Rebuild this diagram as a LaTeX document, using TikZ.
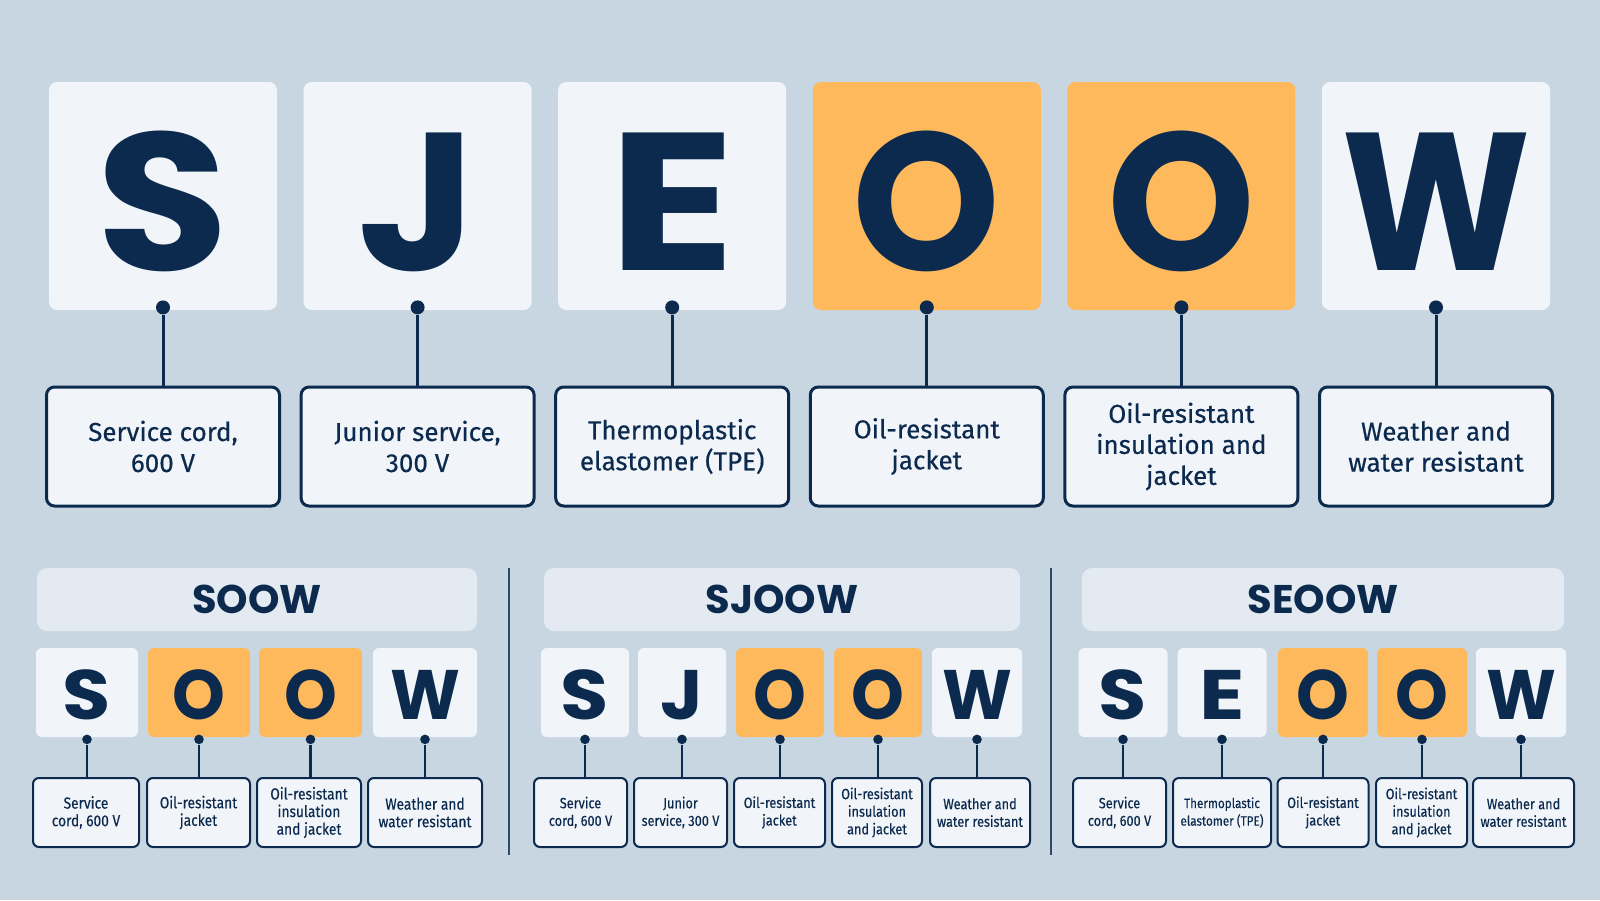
\documentclass[tikz,border=0pt]{standalone}
\usepackage{fontspec}
\setmainfont{Fira Sans}[FakeBold=0.4]
\newfontfamily\letterfont{Poppins}
\newfontfamily\narrowfont{Fira Sans}[FakeStretch=0.86, FakeBold=0.3]
\usetikzlibrary{positioning}
\definecolor{bg}{HTML}{C8D6E1}
\definecolor{cardwhite}{HTML}{F1F5F9}
\definecolor{amber}{HTML}{FDB95C}
\definecolor{navy}{HTML}{0C2A4E}
\definecolor{bar}{HTML}{E3EAF1}
\tikzset{
  bigcard/.style={rounded corners=4pt, minimum width=114pt, minimum height=114pt, inner sep=0pt, text height=74pt, text depth=0pt, text=navy, font=\letterfont\bfseries\fontsize{98}{98}\selectfont},
  biglabel/.style={draw=navy, line width=1.5pt, fill=cardwhite, rounded corners=4pt, minimum width=116.5pt, minimum height=59.5pt, inner sep=0pt, align=center, text=navy, font=\fontsize{13}{15.5}\selectfont},
  smallcard/.style={rounded corners=3pt, minimum height=44.5pt, inner sep=0pt, text height=26.5pt, text depth=0pt, text=navy, font=\letterfont\bfseries\fontsize{35}{35}\selectfont},
  smalllabel/.style={draw=navy, line width=1pt, fill=cardwhite, rounded corners=3pt, minimum height=34.5pt, inner sep=0pt, align=center, text=navy, font=\narrowfont\fontsize{#1}{8.8}\selectfont},
  header/.style={fill=bar, rounded corners=5pt, minimum height=31.5pt, inner sep=0pt, text=navy, font=\letterfont\bfseries\fontsize{20}{20}\selectfont},
  bigdot/.style={circle, fill=navy, inner sep=0pt, minimum size=7pt},
  smalldot/.style={circle, fill=navy, inner sep=0pt, minimum size=4.8pt},
  link/.style={draw=navy, line width=1.5pt},
  thinlink/.style={draw=navy, line width=1.2pt},
  divider/.style={draw=navy!85, line width=1pt}
}
\begin{document}
\begin{tikzpicture}[x=0.5pt, y=-0.5pt]
\fill[bg] (0,0) rectangle (1600,900);
\foreach \x/\l/\s/\c/\t [count=\i] in {163/S/1.1/cardwhite/{Service cord,\\600 V}, 417.6/J/1.06/cardwhite/{Junior service,\\300 V}, 672.2/E/1.2/cardwhite/{Thermoplastic\\elastomer (TPE)}, 926.8/O/0.96/amber/{Oil-resistant\\jacket}, 1181.4/O/0.96/amber/{Oil-resistant\\insulation and\\jacket}, 1436/W/0.92/cardwhite/{Weather and\\water resistant}}{
  \node[bigcard, fill=\c] (top\i) at (\x,196) {\scalebox{\s}[1]{\l}};
  \node[biglabel] (toplabel\i) at (\x,446.5) {\t};
  \node[bigdot] (topdot\i) at ([yshift=1.5pt]top\i.south) {};
  \draw[link] (topdot\i) -- (topdot\i |- toplabel\i.north);
}
\node[header, minimum width=220pt] (soow) at (257,599.5) {SOOW};
\node[header, minimum width=238pt] (sjoow) at (782,599.5) {SJOOW};
\node[header, minimum width=241pt] (seoow) at (1323,599.5) {SEOOW};
\draw[divider] (509,568) -- (509,855);
\draw[divider] (1051,568) -- (1051,855);
\foreach \x/\w/\l/\s/\c/\lx/\lw/\fs/\t [count=\i] in {87/51/S/1.12/cardwhite/86/53/8/{Service\\cord, 600 V}, 199/51/O/0.96/amber/198.5/51.5/8/{Oil-resistant\\jacket}, 310.5/51.5/O/0.96/amber/309/52/8/{Oil-resistant\\insulation\\and jacket}, 425/52/W/0.95/cardwhite/425/57/8/{Weather and\\water resistant}}{
  \node[smallcard, fill=\c, minimum width=\w pt] (soow\i) at (\x,692.5) {\scalebox{\s}[1]{\l}};
  \node[smalllabel=\fs, minimum width=\lw pt] (soowlabel\i) at (\lx,812.5) {\t};
  \node[smalldot] (soowdot\i) at ([yshift=-1pt]soow\i.south) {};
  \draw[thinlink] (soowdot\i) -- (soowdot\i |- soowlabel\i.north);
}
\foreach \x/\w/\l/\s/\c/\lx/\lw/\fs/\t [count=\i] in {585/44/S/1.12/cardwhite/580.5/46.5/7.4/{Service\\cord, 600 V}, 682/44/J/1.06/cardwhite/680.5/46.5/7.4/{Junior\\service, 300 V}, 780/44/O/0.96/amber/779.5/45.5/7.4/{Oil-resistant\\jacket}, 878/44/O/0.96/amber/877/45/7.4/{Oil-resistant\\insulation\\and jacket}, 977/45/W/0.95/cardwhite/980/50/7.4/{Weather and\\water resistant}}{
  \node[smallcard, fill=\c, minimum width=\w pt] (sjoow\i) at (\x,692.5) {\scalebox{\s}[1]{\l}};
  \node[smalllabel=\fs, minimum width=\lw pt] (sjoowlabel\i) at (\lx,812.5) {\t};
  \node[smalldot] (sjoowdot\i) at ([yshift=-1pt]sjoow\i.south) {};
  \draw[thinlink] (sjoowdot\i) -- (sjoowdot\i |- sjoowlabel\i.north);
}
\foreach \x/\w/\l/\s/\c/\lx/\lw/\fs/\t [count=\i] in {1123/44.5/S/1.12/cardwhite/1119.5/46.5/7.4/{Service\\cord, 600 V}, 1222/44.5/E/1.2/cardwhite/1222/49/6.8/{Thermoplastic\\elastomer (TPE)}, 1323/45/O/0.96/amber/1323/45.5/7.4/{Oil-resistant\\jacket}, 1422/45/O/0.96/amber/1421.5/45.5/7.4/{Oil-resistant\\insulation\\and jacket}, 1521/45/W/0.95/cardwhite/1523.5/50.5/7.4/{Weather and\\water resistant}}{
  \node[smallcard, fill=\c, minimum width=\w pt] (seoow\i) at (\x,692.5) {\scalebox{\s}[1]{\l}};
  \node[smalllabel=\fs, minimum width=\lw pt] (seoowlabel\i) at (\lx,812.5) {\t};
  \node[smalldot] (seoowdot\i) at ([yshift=-1pt]seoow\i.south) {};
  \draw[thinlink] (seoowdot\i) -- (seoowdot\i |- seoowlabel\i.north);
}
\end{tikzpicture}
\end{document}
